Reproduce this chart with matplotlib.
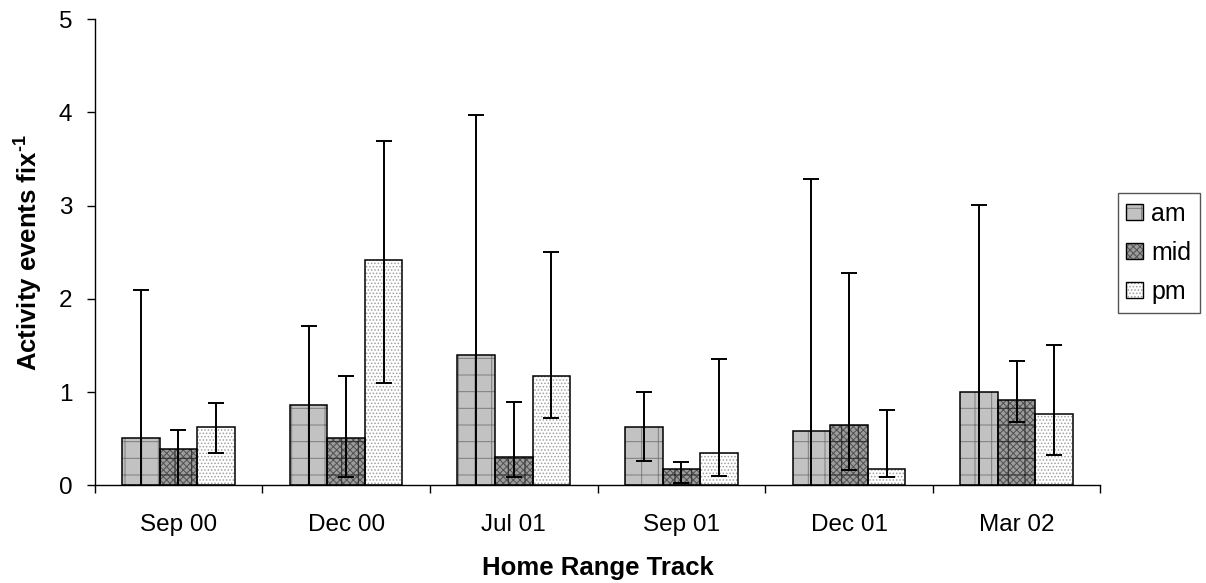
import numpy as np
import matplotlib
matplotlib.use("Agg")
import matplotlib.pyplot as plt
from matplotlib.patches import Patch
from matplotlib.legend_handler import HandlerTuple

plt.rcParams['font.family'] = ['Liberation Sans', 'DejaVu Sans']
plt.rcParams['mathtext.default'] = 'regular'
plt.rcParams['hatch.linewidth'] = 0.7

# values (means, upper and lower error limits)
tracks = ['Sep 00', 'Dec 00', 'Jul 01', 'Sep 01', 'Dec 01', 'Mar 02']
series = ['am', 'mid', 'pm']

am = np.array([0.51, 0.86, 1.40, 0.63, 0.58, 1.00])
am_hi = np.array([2.10, 1.71, 3.97, 1.00, 3.29, 3.01])
am_lo = np.array([-1.0, -0.1, -1.0, 0.26, -2.0, -1.0])   # below zero -> runs to the axis

mid = np.array([0.39, 0.51, 0.30, 0.18, 0.65, 0.91])
mid_hi = np.array([0.59, 1.17, 0.89, 0.25, 2.28, 1.33])
mid_lo = np.array([-0.1, 0.09, 0.09, 0.02, 0.16, 0.68])

pm = np.array([0.62, 2.42, 1.17, 0.35, 0.18, 0.77])
pm_hi = np.array([0.88, 3.69, 2.50, 1.35, 0.81, 1.51])
pm_lo = np.array([0.35, 1.10, 0.72, 0.10, 0.09, 0.33])

fig = plt.figure(figsize=(12.06, 5.83), dpi=100)
ax = fig.add_axes([0.0785, 0.1676, 0.834, 0.7994])

x = np.arange(len(tracks))
w = 0.224

# fill colour, fine hatch, hatch colour, coarse grid hatch
styles = {
    'am':  ('#c2c2c2', '+', '#7c7c7c', None),
    'mid': ('#9c9c9c', 'xxxxx', '#505050', '+'),
    'pm':  ('#ffffff', '.....', '#a0a0a0', None),
}

data = [(am, am_lo, am_hi), (mid, mid_lo, mid_hi), (pm, pm_lo, pm_hi)]
handles = []
for i, (name, (vals, lo, hi)) in enumerate(zip(series, data)):
    fc, hatch, hc, grid = styles[name]
    xs = x + (i - 1) * w
    ax.bar(xs, vals, w, color=fc, hatch=hatch, edgecolor=hc, linewidth=0, zorder=2)
    if grid:
        ax.bar(xs, vals, w, fill=False, hatch=grid, edgecolor='#2a2a2a', linewidth=0, zorder=2)
    ax.bar(xs, vals, w, fill=False, edgecolor='black', linewidth=1.1, zorder=3)
    ax.errorbar(xs, vals, yerr=[vals - lo, hi - vals], fmt='none', ecolor='black',
                elinewidth=1.4, capsize=5.5, capthick=1.4, zorder=4)
    handles.append((Patch(facecolor=fc, hatch=hatch, edgecolor=hc, linewidth=0),
                    Patch(fill=False, edgecolor='black', linewidth=1.0)))

ax.set_xlim(-0.5, len(tracks) - 0.5)
ax.set_ylim(0, 5)
ax.set_yticks(range(6))
ax.set_xticks(x)
ax.set_xticklabels(tracks)
ax.set_xticks(np.arange(-0.5, len(tracks), 1.0), minor=True)
ax.tick_params(axis='x', which='major', length=0, pad=21, labelsize=17.5)
ax.tick_params(axis='x', which='minor', length=6, width=1)
ax.tick_params(axis='y', length=6, width=1, pad=10, labelsize=17.5)

for s in ['top', 'right']:
    ax.spines[s].set_visible(False)
for s in ['left', 'bottom']:
    ax.spines[s].set_linewidth(1)

ax.set_xlabel('Home Range Track', fontsize=18.5, fontweight='bold', labelpad=14)
ax.set_ylabel('Activity events fix$^{\u20101}$', fontsize=18.5, fontweight='bold', labelpad=10)

leg = ax.legend(handles, series, handler_map={tuple: HandlerTuple(ndivide=1, pad=0)},
                loc='upper left', bbox_to_anchor=(1.017, 0.627), fontsize=18,
                fancybox=False, framealpha=1, edgecolor='#555555',
                handlelength=0.65, handleheight=0.65, handletextpad=0.35,
                labelspacing=0.6, borderpad=0.35, borderaxespad=0)
leg.get_frame().set_linewidth(1)

fig.savefig('out.png', dpi=100)
